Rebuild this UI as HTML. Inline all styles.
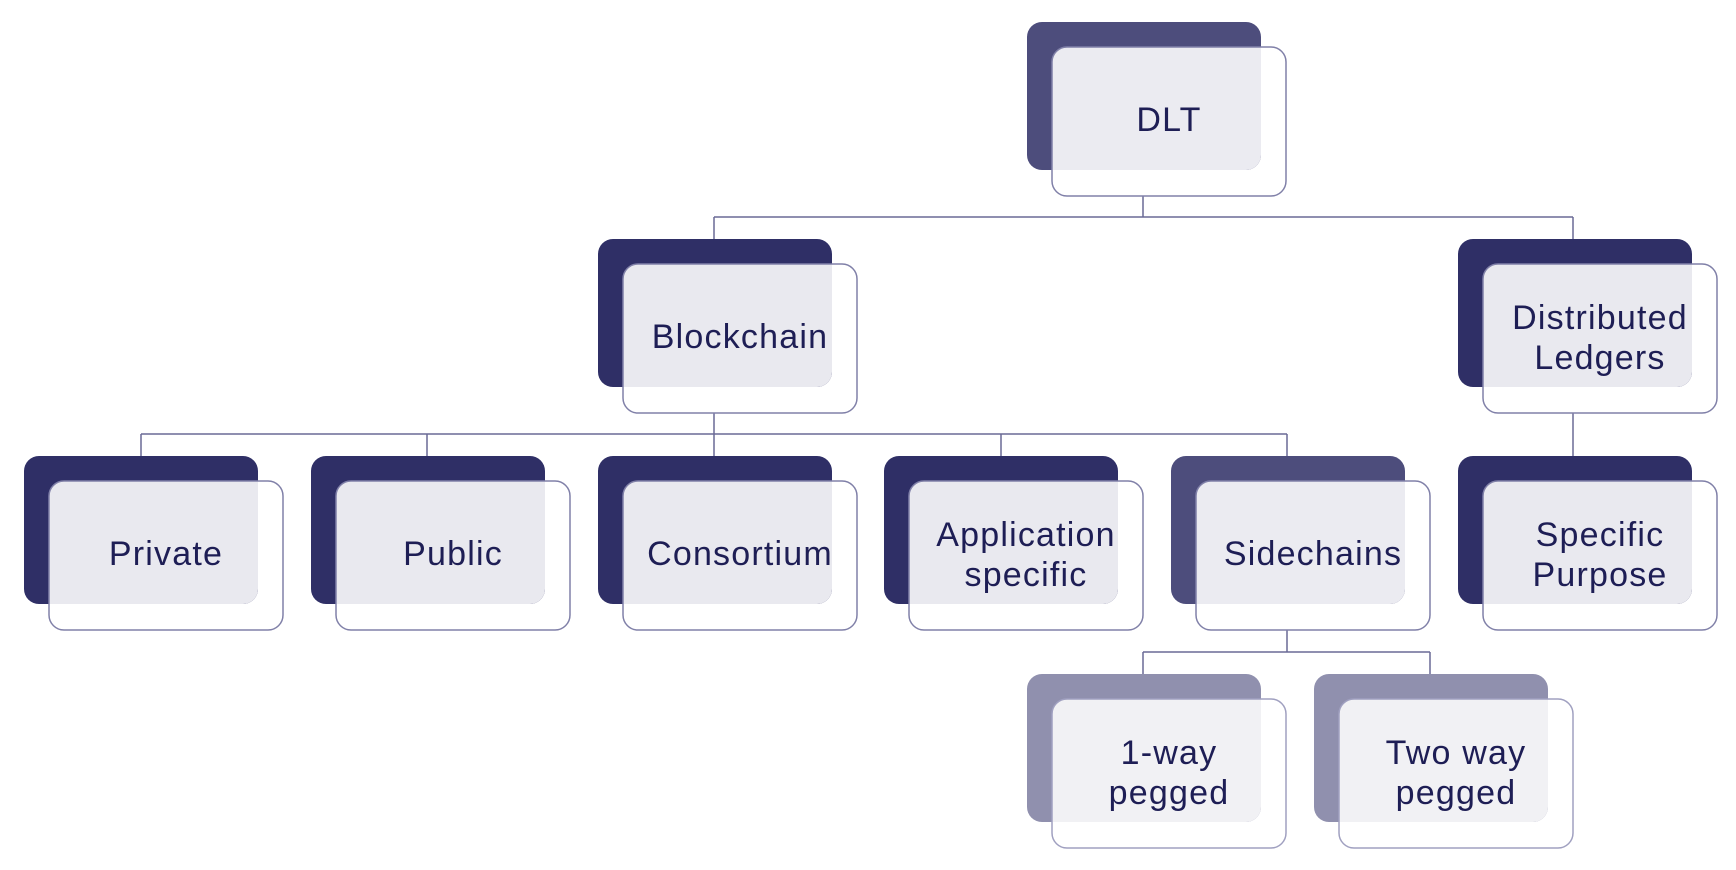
<!DOCTYPE html>
<html><head><meta charset="utf-8"><style>
html,body{margin:0;padding:0;background:#fff;}
svg{display:block;}
text{font-family:"Liberation Sans",sans-serif;font-size:34px;letter-spacing:1.2px;fill:#1e1e55;text-anchor:middle;}
</style></head><body>
<svg width="1736" height="870" viewBox="0 0 1736 870" xmlns="http://www.w3.org/2000/svg">
<defs>
<clipPath id="c1"><rect x="1027" y="22" width="234" height="148" rx="15"/></clipPath>
<clipPath id="c2"><rect x="598" y="239" width="234" height="148" rx="15"/></clipPath>
<clipPath id="c3"><rect x="1458" y="239" width="234" height="148" rx="15"/></clipPath>
<clipPath id="c4"><rect x="24" y="456" width="234" height="148" rx="15"/></clipPath>
<clipPath id="c5"><rect x="311" y="456" width="234" height="148" rx="15"/></clipPath>
<clipPath id="c6"><rect x="598" y="456" width="234" height="148" rx="15"/></clipPath>
<clipPath id="c7"><rect x="884" y="456" width="234" height="148" rx="15"/></clipPath>
<clipPath id="c8"><rect x="1171" y="456" width="234" height="148" rx="15"/></clipPath>
<clipPath id="c9"><rect x="1458" y="456" width="234" height="148" rx="15"/></clipPath>
<clipPath id="c10"><rect x="1027" y="674" width="234" height="148" rx="15"/></clipPath>
<clipPath id="c11"><rect x="1314" y="674" width="234" height="148" rx="15"/></clipPath>
</defs>
<g stroke="#6a6a96" stroke-width="1.5" fill="none">
<path d="M1143 196V217M714 217H1573M714 217V239M1573 217V239"/>
<path d="M714 413V434M141 434H1287M141 434V456M427 434V456M714 434V456M1001 434V456M1287 434V456"/>
<path d="M1573 413V456"/>
<path d="M1287 630V652M1143 652H1430M1143 652V674M1430 652V674"/>
</g>
<g>
<rect x="1027" y="22" width="234" height="148" rx="15" fill="#4d4d7c"/>
<rect x="1052" y="47" width="234" height="149" rx="15" fill="#ebebf1" clip-path="url(#c1)"/>
<rect x="1052" y="47" width="234" height="149" rx="15" fill="none" stroke="#8080a8" stroke-width="1.5"/>
<text x="1169" y="131">DLT</text>
</g>
<g>
<rect x="598" y="239" width="234" height="148" rx="15" fill="#2f2f66"/>
<rect x="623" y="264" width="234" height="149" rx="15" fill="#e9e9ef" clip-path="url(#c2)"/>
<rect x="623" y="264" width="234" height="149" rx="15" fill="none" stroke="#8080a8" stroke-width="1.5"/>
<text x="740" y="348">Blockchain</text>
</g>
<g>
<rect x="1458" y="239" width="234" height="148" rx="15" fill="#2f2f66"/>
<rect x="1483" y="264" width="234" height="149" rx="15" fill="#e9e9ef" clip-path="url(#c3)"/>
<rect x="1483" y="264" width="234" height="149" rx="15" fill="none" stroke="#8080a8" stroke-width="1.5"/>
<text x="1600" y="329">Distributed</text><text x="1600" y="369">Ledgers</text>
</g>
<g>
<rect x="24" y="456" width="234" height="148" rx="15" fill="#2f2f66"/>
<rect x="49" y="481" width="234" height="149" rx="15" fill="#e9e9ef" clip-path="url(#c4)"/>
<rect x="49" y="481" width="234" height="149" rx="15" fill="none" stroke="#8080a8" stroke-width="1.5"/>
<text x="166" y="565">Private</text>
</g>
<g>
<rect x="311" y="456" width="234" height="148" rx="15" fill="#2f2f66"/>
<rect x="336" y="481" width="234" height="149" rx="15" fill="#e9e9ef" clip-path="url(#c5)"/>
<rect x="336" y="481" width="234" height="149" rx="15" fill="none" stroke="#8080a8" stroke-width="1.5"/>
<text x="453" y="565">Public</text>
</g>
<g>
<rect x="598" y="456" width="234" height="148" rx="15" fill="#2f2f66"/>
<rect x="623" y="481" width="234" height="149" rx="15" fill="#e9e9ef" clip-path="url(#c6)"/>
<rect x="623" y="481" width="234" height="149" rx="15" fill="none" stroke="#8080a8" stroke-width="1.5"/>
<text x="740" y="565">Consortium</text>
</g>
<g>
<rect x="884" y="456" width="234" height="148" rx="15" fill="#2f2f66"/>
<rect x="909" y="481" width="234" height="149" rx="15" fill="#e9e9ef" clip-path="url(#c7)"/>
<rect x="909" y="481" width="234" height="149" rx="15" fill="none" stroke="#8080a8" stroke-width="1.5"/>
<text x="1026" y="546">Application</text><text x="1026" y="586">specific</text>
</g>
<g>
<rect x="1171" y="456" width="234" height="148" rx="15" fill="#4d4d7c"/>
<rect x="1196" y="481" width="234" height="149" rx="15" fill="#ebebf1" clip-path="url(#c8)"/>
<rect x="1196" y="481" width="234" height="149" rx="15" fill="none" stroke="#8080a8" stroke-width="1.5"/>
<text x="1313" y="565">Sidechains</text>
</g>
<g>
<rect x="1458" y="456" width="234" height="148" rx="15" fill="#2f2f66"/>
<rect x="1483" y="481" width="234" height="149" rx="15" fill="#e9e9ef" clip-path="url(#c9)"/>
<rect x="1483" y="481" width="234" height="149" rx="15" fill="none" stroke="#8080a8" stroke-width="1.5"/>
<text x="1600" y="546">Specific</text><text x="1600" y="586">Purpose</text>
</g>
<g>
<rect x="1027" y="674" width="234" height="148" rx="15" fill="#9090ae"/>
<rect x="1052" y="699" width="234" height="149" rx="15" fill="#f1f1f4" clip-path="url(#c10)"/>
<rect x="1052" y="699" width="234" height="149" rx="15" fill="none" stroke="#a0a0c0" stroke-width="1.5"/>
<text x="1169" y="764">1-way</text><text x="1169" y="804">pegged</text>
</g>
<g>
<rect x="1314" y="674" width="234" height="148" rx="15" fill="#9090ae"/>
<rect x="1339" y="699" width="234" height="149" rx="15" fill="#f1f1f4" clip-path="url(#c11)"/>
<rect x="1339" y="699" width="234" height="149" rx="15" fill="none" stroke="#a0a0c0" stroke-width="1.5"/>
<text x="1456" y="764">Two way</text><text x="1456" y="804">pegged</text>
</g>
</svg>
</body></html>
